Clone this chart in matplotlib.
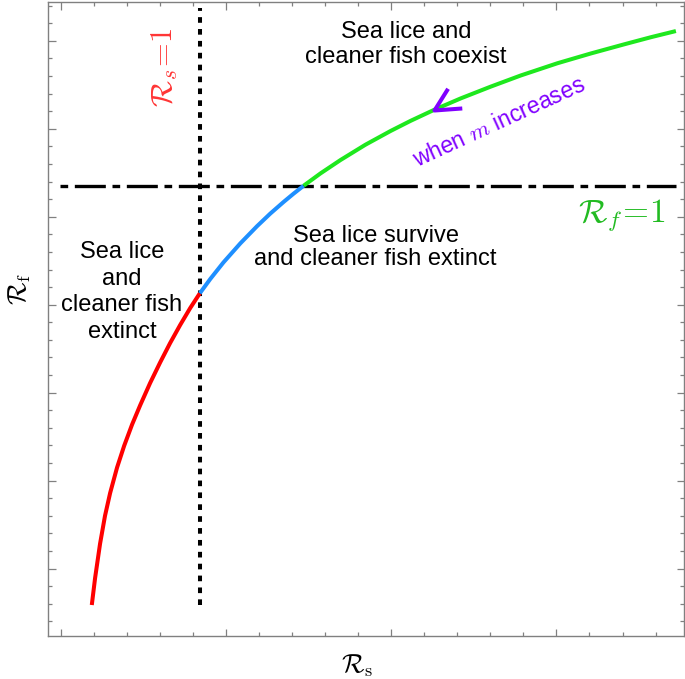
import numpy as np
import matplotlib
matplotlib.use("Agg")
import matplotlib.pyplot as plt
from matplotlib.path import Path
from matplotlib.ticker import MultipleLocator, NullFormatter

plt.rcParams['font.family'] = ['Liberation Sans', 'DejaVu Sans']
plt.rcParams['mathtext.fontset'] = 'cm'

# ---- data (arbitrary units) ----
red_rs = [0.188, 0.208, 0.238, 0.268, 0.299, 0.341, 0.384, 0.432, 0.481,
          0.541, 0.602, 0.662, 0.723, 0.784, 0.842]
red_rf = [-2.413, -2.106, -1.717, -1.399, -1.140, -0.850, -0.603, -0.361,
          -0.142, 0.110, 0.345, 0.564, 0.770, 0.963, 1.130]

blue_rs = [0.842, 0.905, 0.985, 1.087, 1.188, 1.268, 1.349, 1.408, 1.470]
blue_rf = [1.130, 1.292, 1.481, 1.697, 1.892, 2.035, 2.168, 2.260, 2.352]

green_rs = [1.470, 1.572, 1.693, 1.844, 1.996, 2.117, 2.258, 2.420, 2.602,
            2.784, 3.006, 3.208, 3.410, 3.572, 3.723]
green_rf = [2.352, 2.492, 2.644, 2.818, 2.974, 3.089, 3.213, 3.344, 3.478,
            3.605, 3.744, 3.855, 3.959, 4.040, 4.110]

rs_threshold = 0.842          # R_s = 1
rf_threshold = 2.352          # R_f = 1
arrow_rs = 2.258              # where the "m increases" arrowhead sits

region_texts = ["Sea lice and\ncleaner fish coexist",
                "Sea lice survive\nand cleaner fish extinct",
                "Sea lice\nand\ncleaner fish\nextinct"]

fig = plt.figure(figsize=(6.85, 6.79), dpi=100)
ax = fig.add_axes([48/685, 43/679, 636/685, 634/679])

ax.set_xlim(-0.077, 3.772)
ax.set_ylim(-2.765, 4.44)

lw_curve = 2.9
ax.plot(red_rs, red_rf, color='#ff0000', lw=lw_curve, solid_capstyle='butt',
        solid_joinstyle='round', zorder=3)
ax.plot(blue_rs, blue_rf, color='#1e8fff', lw=lw_curve, solid_capstyle='butt',
        solid_joinstyle='round', zorder=3)
ax.plot(green_rs, green_rf, color='#1ee81e', lw=lw_curve, solid_capstyle='butt',
        solid_joinstyle='round', zorder=3)

# threshold lines
ax.plot([-0.004, green_rs[-1]], [rf_threshold, rf_threshold], color='black',
        lw=2.4, dashes=(2.3, 2.0, 9.3, 2.0), zorder=2)
ax.plot([rs_threshold, rs_threshold], [red_rf[0], 4.372], color='black',
        lw=2.9, dashes=(1.4, 1.55), zorder=2)

# arrowhead (chevron) on the green curve
chev = Path([(27.4, 2.0), (0, 0), (13.4, 21.4)],
            [Path.MOVETO, Path.LINETO, Path.LINETO])
arrow_rf = np.interp(arrow_rs, green_rs, green_rf)
ax.plot([arrow_rs], [arrow_rf], marker=chev, ms=40, mfc='none',
        mec='#8000ff', mew=2.9, zorder=4)

# region labels
ax.text(2.090, 3.957, region_texts[0], fontsize=17, ha='center', va='center',
        multialignment='center', linespacing=1.12)
ax.text(1.905, 1.650, region_texts[1], fontsize=17, ha='center', va='center',
        multialignment='center', linespacing=1.06)
ax.text(0.370, 1.146, region_texts[2], fontsize=17, ha='center', va='center',
        multialignment='center', linespacing=1.27)

ax.text(2.655, 3.076, r"when $m$ increases", fontsize=16.5, color='#8000ff',
        rotation=24.6, rotation_mode='anchor', ha='center', va='center')

ax.text(0.633, 3.699, r"$\mathcal{R}_s\!=\!1$", fontsize=22, color='#ff3535',
        rotation=90, ha='center', va='center')
ax.text(3.392, 2.017, r"$\mathcal{R}_f\!=\!1$", fontsize=24, color='#22bb22',
        ha='center', va='center')

ax.set_xlabel(r"$\mathcal{R}_\mathrm{s}$", fontsize=19)
ax.set_ylabel(r"$\mathcal{R}_\mathrm{f}$", fontsize=19)
ax.xaxis.set_label_coords(0.486, -0.047)
ax.xaxis.label.set_va('center')
ax.yaxis.set_label_coords(-0.044, 0.547)
ax.yaxis.label.set_va('center')

# ticks
ax.xaxis.set_major_locator(MultipleLocator(1))
ax.xaxis.set_minor_locator(MultipleLocator(0.2))
ax.yaxis.set_major_locator(MultipleLocator(1))
ax.yaxis.set_minor_locator(MultipleLocator(0.2))
ax.xaxis.set_major_formatter(NullFormatter())
ax.yaxis.set_major_formatter(NullFormatter())
ax.tick_params(which='both', direction='in', top=True, right=True,
               color='#808080', width=0.9)
ax.tick_params(which='major', length=5.4)
ax.tick_params(which='minor', length=3.2)
for s in ax.spines.values():
    s.set_color('#808080')
    s.set_linewidth(1.0)

fig.savefig("out.png", dpi=100)
